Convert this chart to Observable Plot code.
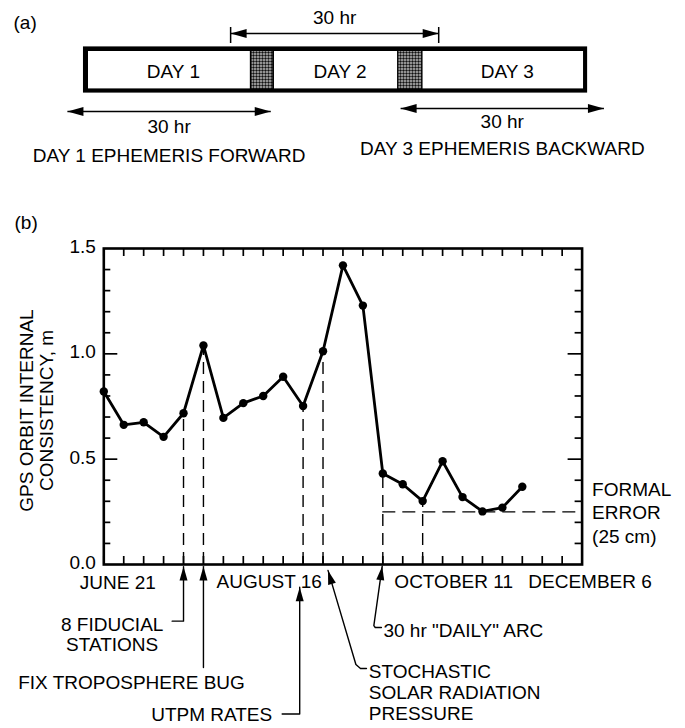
<!DOCTYPE html>
<html>
<head>
<meta charset="utf-8">
<script src="https://cdn.jsdelivr.net/npm/d3@7"></script>
<script src="https://cdn.jsdelivr.net/npm/@observablehq/plot@0.6"></script>
<style>
html, body { margin: 0; padding: 0; background: #fff; }
#chart { width: 685px; }
#chart svg { display: block; }
</style>
</head>
<body>
<div id="chart"></div>
<script>
// ---------- (a) arc schematic, in hours ----------
const dayLabels = ["DAY 1", "DAY 2", "DAY 3"];
const dayStartHr = [0, 27.35, 49.2];
const dayEndHr = [23.8, 45.45, 72.8];
const overlapStartHr = [24.05, 45.65];
const overlapEndHr = [27.1, 49.0];
const arcLabels = ["30 hr", "30 hr", "30 hr"];
const arcStartHr = [20.9, -3.1, 45.9];
const arcEndHr = [51.5, 26.8, 75.8];
const arcCaptions = ["", "DAY 1 EPHEMERIS FORWARD", "DAY 3 EPHEMERIS BACKWARD"];

// ---------- (b) orbit internal consistency, weekly from June 21 ----------
const startDate = "1992-06-21";
const weekIndex = [0, 1, 2, 3, 4, 5, 6, 7, 8, 9, 10, 11, 12, 13, 14, 15, 16, 17, 18, 19, 20, 21];
const consistency = [0.821, 0.663, 0.675, 0.606, 0.718, 1.040, 0.696, 0.766, 0.800, 0.891, 0.752,
                     1.012, 1.420, 1.229, 0.432, 0.381, 0.301, 0.490, 0.320, 0.252, 0.270, 0.369];
const dateLabels = ["JUNE 21", "AUGUST 16", "OCTOBER 11", "DECEMBER 6"];
const dateLabelWeeks = [0, 8, 16, 24];
const axisWeeks = 24;
const yLabelTicks = [0, 0.5, 1.0, 1.5];
const yMajorTicks = [0.5, 1.0];
const yMinorTicks = [0.1, 0.2, 0.3, 0.4, 0.6, 0.7, 0.8, 0.9, 1.1, 1.2, 1.3, 1.4];
const formalError = 0.25;
const formalErrorFromWeek = 14;
const formalErrorLabel = "FORMAL\nERROR\n(25 cm)";
const dashedWeeks = [4, 5, 10, 11, 14, 16];
const eventLabels = ["8 FIDUCIAL\nSTATIONS", "FIX TROPOSPHERE BUG", "UTPM RATES",
                     "STOCHASTIC\nSOLAR RADIATION\nPRESSURE", "30 hr \"DAILY\" ARC"];
const eventWeeks = [4, 5, 10, 11, 14];
const yTitleLines = ["GPS ORBIT INTERNAL", "CONSISTENCY, m"];

const FONT = "'Liberation Sans', Arial, Helvetica, sans-serif";

// filled arrowhead symbol, tip at the point, pointing along angle (deg, screen coords)
function head(deg, len = 14, wid = 8) {
  const a = deg * Math.PI / 180, c = Math.cos(a), s = Math.sin(a);
  return {
    draw(ctx) {
      const bx = -len * c, by = -len * s, px = -s * wid / 2, py = c * wid / 2;
      ctx.moveTo(0, 0);
      ctx.lineTo(bx + px, by + py);
      ctx.lineTo(bx - px, by - py);
      ctx.closePath();
    }
  };
}

// ================= (a) =================
const days = dayLabels.map((label, i) => ({label, x1: dayStartHr[i], x2: dayEndHr[i]}));
const overlaps = overlapStartHr.map((x1, i) => ({x1, x2: overlapEndHr[i]}));
const arcRow = [1.65, 5.55, 5.4], arcTextRow = [0.85, 6.33, 6.08], captionRow = [0, 7.75, 7.4];
const arcs = arcLabels.map((label, i) => ({
  label, caption: arcCaptions[i], x1: arcStartHr[i], x2: arcEndHr[i],
  row: arcRow[i], textRow: arcTextRow[i], capRow: captionRow[i]
}));
const mid = d => (d.x1 + d.x2) / 2;

const svgA = Plot.plot({
  width: 685, height: 200,
  marginTop: 0, marginRight: 0, marginBottom: 0, marginLeft: 0,
  style: {fontFamily: FONT, background: "white", overflow: "visible"},
  x: {domain: [0, 72], range: [88, 88 + 72 * 6.8], axis: null},
  y: {domain: [0, 10], range: [0, 200], axis: null},
  marks: [
    Plot.rect([0], {x1: d3.min(dayStartHr) - 0.74, x2: d3.max(dayEndHr) + 0.6, y1: 2.32, y2: 4.63, fill: "black"}),
    Plot.rect(days, {x1: "x1", x2: "x2", y1: 2.55, y2: 4.42, fill: "white"}),
    Plot.rect(overlaps, {x1: "x1", x2: "x2", y1: 2.55, y2: 4.42, fill: "url(#stipple)"}),
    Plot.text(days, {x: mid, y: 3.55, text: "label", fontSize: 19, dx: 4}),
    Plot.link(arcs, {x1: "x1", x2: "x2", y1: "row", y2: "row", strokeWidth: 1.5}),
    Plot.dot(arcs, {x: "x1", y: "row", symbol: head(180, 16, 9), fill: "black", stroke: "none", r: 5}),
    Plot.dot(arcs, {x: "x2", y: "row", symbol: head(0, 16, 9), fill: "black", stroke: "none", r: 5}),
    Plot.ruleX([arcs[0].x1, arcs[0].x2], {y1: 1.35, y2: 2.15, strokeWidth: 1.5}),
    Plot.text(arcs, {x: mid, y: "textRow", text: "label", fontSize: 19}),
    Plot.text(arcs.filter(d => d.caption), {x: mid, y: "capRow", text: "caption", fontSize: 19}),
    Plot.text(["(a)"], {text: d => d, frameAnchor: "top-left", dx: 13, dy: 22, textAnchor: "start", lineAnchor: "middle", fontSize: 19})
  ]
});
const pat = d3.select(svgA).insert("defs", ":first-child")
  .append("pattern").attr("id", "stipple").attr("patternUnits", "userSpaceOnUse")
  .attr("width", 3).attr("height", 3);
pat.append("rect").attr("width", 3).attr("height", 3).attr("fill", "#bdbdbd");
pat.append("circle").attr("cx", 1.5).attr("cy", 1.5).attr("r", 1.2).attr("fill", "#111");

// ================= (b) =================
const t0 = Date.parse(startDate);
const wk = k => new Date(t0 + k * 7 * 864e5);
const series = weekIndex.map((k, i) => ({date: wk(k), value: consistency[i]}));
const weekTicks = d3.range(0, axisWeeks + 1).map(wk);
const dashed = dashedWeeks.map(k => series[weekIndex.indexOf(k)]);

// inward tick lengths, expressed in each scale's units (y: 210 px per m, x: 19.93 px per week)
const yTick = 8 / 210;
const xMinor = wk(7 / 19.93) - wk(0), xMajor = wk(14 / 19.93) - wk(0);
const xLeft = wk(0), xRight = wk(axisWeeks);

// callout layout: [week, value] points below the axis
const callouts = [
  {path: [[4, -0.01], [4, -0.269], [3.43, -0.269]], angle: -90, text: [0.42, -0.332], anchor: "middle", lh: 1.05},
  {path: [[5, -0.01], [5, -0.489]], angle: -90, text: [1.39, -0.56], anchor: "middle", lh: 1.05},
  {path: [[9.83, -0.108], [9.83, -0.71], [8.95, -0.71]], angle: -90, text: [8.45, -0.712], anchor: "end", lh: 1.05},
  {path: [[11.25, -0.028], [12.65, -0.475], [12.88, -0.494], [13.18, -0.494]], angle: -106.6, text: [13.3, -0.606], anchor: "start", lh: 1.1},
  {path: [[13.97, -0.008], [13.55, -0.29], [13.62, -0.299], [13.93, -0.299]], angle: -82, text: [14.03, -0.313], anchor: "start", lh: 1.05}
].map((c, i) => ({...c, label: eventLabels[i], week: eventWeeks[i]}));
const calloutPts = callouts.flatMap((c, i) => c.path.map(([k, v]) => ({id: i, date: wk(k), v})));

const labelShift = [14, 6, 31, 8];
const labelDrop = [18, 17, 17, 17];

const svgB = Plot.plot({
  width: 685, height: 528,
  marginLeft: 103.3, marginRight: 103.4, marginTop: 48, marginBottom: 164,
  style: {fontFamily: FONT, background: "white", overflow: "visible"},
  x: {type: "utc", domain: [xLeft, xRight], axis: null},
  y: {domain: [0, 1.5], axis: null, label: null},
  marks: [
    Plot.ruleX(dashed, {x: "date", y1: 0, y2: "value", strokeWidth: 1.4, strokeDasharray: "12,7"}),
    Plot.ruleY([formalError], {x1: wk(formalErrorFromWeek), x2: xRight, strokeWidth: 1.4, strokeDasharray: "13,7"}),
    Plot.line(series, {x: "date", y: "value", strokeWidth: 2.8, strokeLinejoin: "miter"}),
    Plot.dot(series, {x: "date", y: "value", r: 4.2, fill: "black", stroke: "none"}),
    // inward ticks
    Plot.ruleX(weekTicks, {x: d => d, y1: 0, y2: yTick, strokeWidth: 1.7}),
    Plot.ruleX(weekTicks, {x: d => d, y1: 1.5, y2: 1.5 - yTick, strokeWidth: 1.7}),
    Plot.ruleY(yMinorTicks, {y: d => d, x1: xLeft, x2: new Date(+xLeft + xMinor), strokeWidth: 1.7}),
    Plot.ruleY(yMajorTicks, {y: d => d, x1: xLeft, x2: new Date(+xLeft + xMajor), strokeWidth: 1.7}),
    Plot.ruleY(yMinorTicks, {y: d => d, x1: new Date(+xRight - xMinor), x2: xRight, strokeWidth: 1.7}),
    Plot.ruleY(yMajorTicks, {y: d => d, x1: new Date(+xRight - xMajor), x2: xRight, strokeWidth: 1.7}),
    Plot.frame({strokeWidth: 2.6}),
    Plot.axisY(yLabelTicks, {anchor: "left", tickSize: 0, tickPadding: 8, tickFormat: d3.format(".1f"), label: null, fontSize: 19, dy: -1.5}),
    ...dateLabels.map((t, i) => Plot.text([t], {
      text: d => d, x: wk(dateLabelWeeks[i]), y: 0, dx: labelShift[i], dy: labelDrop[i], fontSize: 19, lineAnchor: "middle"
    })),
    Plot.text([formalErrorLabel], {text: d => d, x: xRight, y: formalError, dx: 10, textAnchor: "start", lineAnchor: "middle", lineHeight: 1.24, fontSize: 19}),
    Plot.line(calloutPts, {x: "date", y: "v", z: "id", strokeWidth: 1.4}),
    ...callouts.map(c => Plot.dot([c], {
      x: d => wk(d.path[0][0]), y: d => d.path[0][1], symbol: head(c.angle, 14, 8), fill: "black", stroke: "none", r: 5
    })),
    ...callouts.map(c => Plot.text([c], {
      x: d => wk(d.text[0]), y: d => d.text[1], text: "label", textAnchor: c.anchor, lineAnchor: "middle", lineHeight: c.lh, fontSize: 19
    })),
    Plot.text([yTitleLines.join("\n")], {text: d => d, frameAnchor: "left", textAnchor: "middle", dx: -67.3, dy: 4, rotate: -90, lineAnchor: "middle", lineHeight: 1.05, fontSize: 19}),
    Plot.text(["(b)"], {text: d => d, frameAnchor: "top-left", dx: 14 - 103.3, dy: 22 - 48, textAnchor: "start", lineAnchor: "middle", fontSize: 19})
  ]
});

const chart = document.getElementById("chart");
chart.appendChild(svgA);
chart.appendChild(svgB);
</script>
</body>
</html>
